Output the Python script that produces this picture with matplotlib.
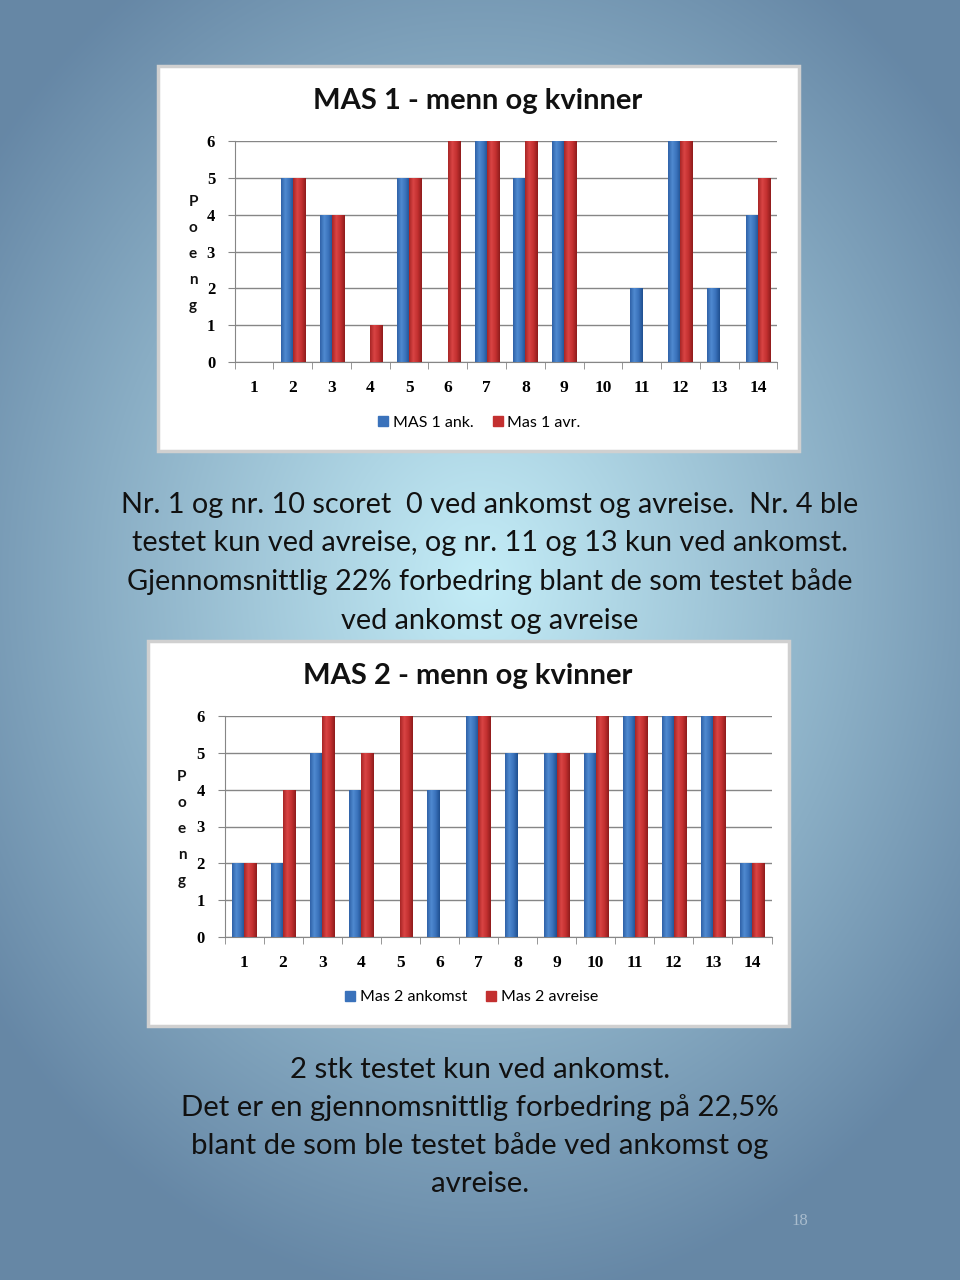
import numpy as np
import matplotlib
matplotlib.use("Agg")
import matplotlib.pyplot as plt
from matplotlib.patches import Rectangle
from matplotlib.lines import Line2D
from matplotlib.colors import LinearSegmentedColormap

# data
deltakere = [str(i) for i in range(1, 15)]
mas1_ank = [0, 5, 4, 0, 5, 0, 6, 5, 6, 0, 2, 6, 2, 4]
mas1_avr = [0, 5, 4, 1, 5, 6, 6, 6, 6, 0, 0, 6, 0, 5]
mas2_ank = [2, 2, 5, 4, 0, 4, 6, 5, 5, 5, 6, 6, 6, 2]
mas2_avr = [2, 4, 6, 5, 6, 0, 6, 0, 5, 6, 6, 6, 6, 2]
yticks = [0, 1, 2, 3, 4, 5, 6]

tekst1 = ["Nr. 1 og nr. 10 scoret  0 ved ankomst og avreise.  Nr. 4 ble",
          "testet kun ved avreise, og nr. 11 og 13 kun ved ankomst.",
          "Gjennomsnittlig 22% forbedring blant de som testet både",
          "ved ankomst og avreise"]
tekst2 = ["2 stk testet kun ved ankomst.",
          "Det er en gjennomsnittlig forbedring på 22,5%",
          "blant de som ble testet både ved ankomst og",
          "avreise."]

W, H = 960, 1280
fig = plt.figure(figsize=(9.6, 12.8), dpi=100)


def fx(px):
    return px / W


def fy(py):
    return 1 - py / H


# slide background: radial blue gradient, drawn in pixel coordinates
bg = fig.add_axes([0, 0, 1, 1], zorder=-5)
yy, xx = np.mgrid[0:H, 0:W]
r = np.sqrt(((xx - 480) / 640.0) ** 2 + ((yy - 580) / 760.0) ** 2)
r = np.clip(r / 0.95, 0, 1)
inner = np.array([0.77, 0.93, 0.97])
outer = np.array([0.40, 0.53, 0.65])
img = inner[None, None, :] * (1 - r[..., None]) + outer[None, None, :] * r[..., None]
bg.imshow(img, extent=[0, W, H, 0], aspect="auto")
bg.set_xlim(0, W)
bg.set_ylim(H, 0)
bg.set_axis_off()

blue_cm = LinearSegmentedColormap.from_list("b", ["#2f62a8", "#4f8ad0", "#3a72bb", "#1f4f8f"])
red_cm = LinearSegmentedColormap.from_list("r", ["#a82626", "#d94444", "#c33030", "#8e1c1c"])
grad = np.linspace(0, 1, 64).reshape(1, -1)


def shade(ax, bars, cmap):
    for b in bars:
        h = b.get_height()
        if h <= 0:
            continue
        x0 = b.get_x()
        im = ax.imshow(grad, cmap=cmap, aspect="auto", zorder=3,
                       extent=[x0, x0 + b.get_width(), 0, h])
        im.set_clip_path(b)
        b.set_facecolor("none")


def chart(box, plot, title, ank, avr, labels, title_xy, leg_xy, poeng_x, poeng_y):
    # white frame
    bg.add_patch(Rectangle((box[0], box[1]), box[2] - box[0], box[3] - box[1],
                           facecolor="white", edgecolor="#d0d0d0", lw=2.5))
    fig.text(fx(title_xy[0]), fy(title_xy[1]), title, ha="center", va="center",
             fontsize=21, fontweight="bold", family="Lato", color="#111111")

    ax = fig.add_axes([fx(plot[0]), fy(plot[3]), fx(plot[2] - plot[0]), (plot[3] - plot[1]) / H])
    ax.set_facecolor("none")
    n = len(deltakere)
    x = np.arange(n)
    w = 0.31
    b1 = ax.bar(x - w / 2, ank, w, color="#3a72bb", zorder=3)
    b2 = ax.bar(x + w / 2, avr, w, color="#c33030", zorder=3)
    shade(ax, b1, blue_cm)
    shade(ax, b2, red_cm)
    ax.set_xlim(-0.5, n - 0.5)
    ax.set_ylim(0, 6)
    ax.set_yticks(yticks)
    ax.set_yticklabels([str(t) for t in yticks], family="Liberation Serif",
                       fontweight="bold", fontsize=12)
    ax.set_xticks(x)
    ax.set_xticklabels(deltakere, family="Liberation Serif", fontweight="bold", fontsize=12.5)
    ax.set_xticks(np.arange(-0.5, n), minor=True)
    ax.tick_params(axis="x", which="major", length=0, pad=13)
    ax.tick_params(axis="x", which="minor", length=5, color="#868686")
    ax.tick_params(axis="y", length=5, color="#868686", pad=9)
    ax.grid(axis="y", color="#868686", lw=1, zorder=1)
    for s in ["top", "right"]:
        ax.spines[s].set_visible(False)
    for s in ["left", "bottom"]:
        ax.spines[s].set_color("#868686")

    # legend with small square markers
    handles = [Line2D([], [], marker="s", ls="", color="#3a72bb", markersize=7),
               Line2D([], [], marker="s", ls="", color="#c33030", markersize=7)]
    fig.legend(handles, labels, loc="center", bbox_to_anchor=(fx(leg_xy[0]), fy(leg_xy[1])),
               ncol=2, frameon=False, prop={"family": "Lato", "size": 11.5},
               handletextpad=0.1, columnspacing=1.0, handlelength=1.0)

    for i, ch in enumerate("Poeng"):
        fig.text(fx(poeng_x), fy(poeng_y + i * 26), ch, ha="center", va="center",
                 fontsize=11, fontweight="bold", family="Lato", color="#111111")
    return ax


chart((158, 66, 799, 451), (234.6, 141, 777.4, 362), "MAS 1 - menn og kvinner",
      mas1_ank, mas1_avr, ["MAS 1 ank.", "Mas 1 avr."], (478, 101), (478, 423), 193, 202)
chart((148, 641, 789, 1026), (224.5, 716, 771.5, 937), "MAS 2 - menn og kvinner",
      mas2_ank, mas2_avr, ["Mas 2 ankomst", "Mas 2 avreise"], (468, 676), (470, 997), 182, 777)

for i, line in enumerate(tekst1):
    fig.text(fx(490), fy(505 + i * 38.5), line, ha="center", va="center",
             fontsize=20.8, family="Lato", color="#111111")
for i, line in enumerate(tekst2):
    fig.text(fx(480), fy(1070 + i * 38), line, ha="center", va="center",
             fontsize=21.2, family="Lato", color="#111111")

fig.text(fx(800), fy(1221), "18", ha="center", va="center", fontsize=12,
         family="Liberation Serif", color="#a9bccd")

fig.savefig("out.png", dpi=100)
